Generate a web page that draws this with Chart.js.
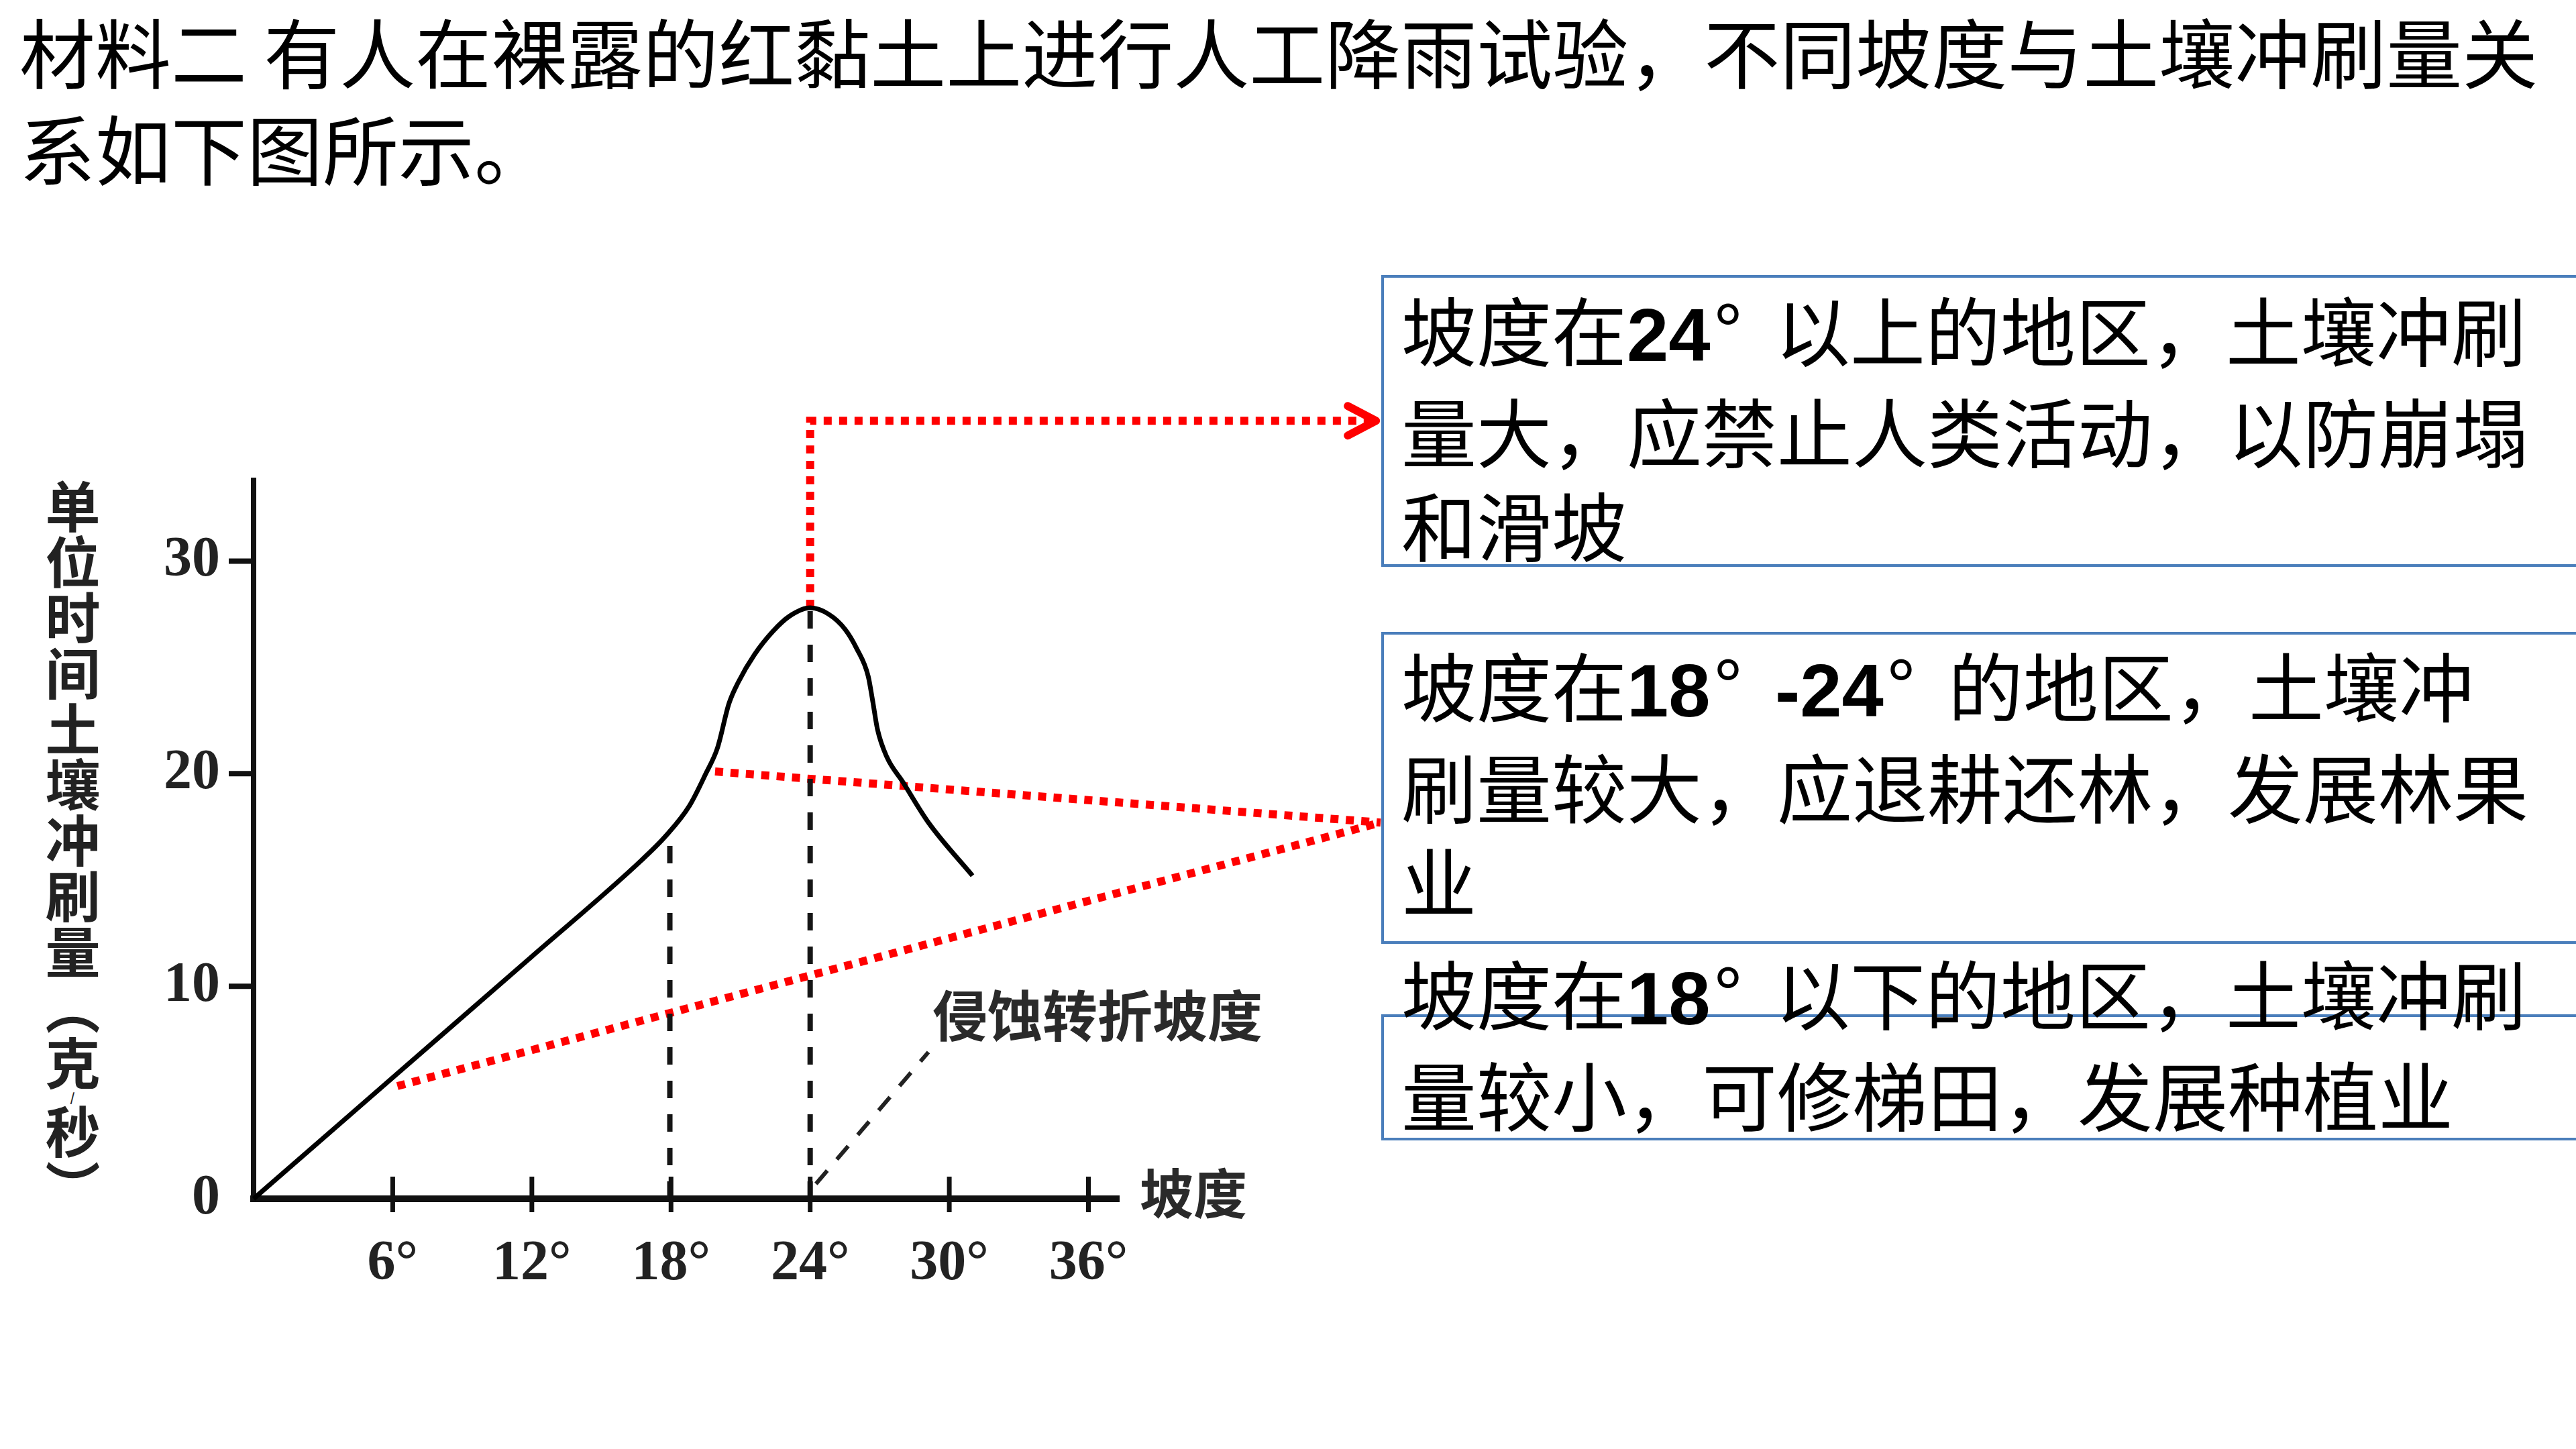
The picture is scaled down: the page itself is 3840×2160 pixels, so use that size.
<!DOCTYPE html>
<html lang="zh-CN">
<head>
<meta charset="utf-8">
<title>坡度与土壤冲刷量关系</title>
<script src="https://cdn.jsdelivr.net/npm/chart.js@4.4.1/dist/chart.umd.min.js"></script>
<style>
  html, body { margin: 0; padding: 0; background: #fff; }
  body { width: 3840px; height: 2160px; position: relative; overflow: hidden; font-family: "Noto Sans CJK SC", sans-serif; color: #000; }
  .title { position: absolute; left: 29px; top: 2px; font-size: 113px; line-height: 144px; white-space: nowrap; }
  .box { position: absolute; left: 2059px; width: 1900px; border: 4px solid #4a7ebb; border-right: none; box-sizing: border-box; }
  .note { position: absolute; left: 2089px; font-size: 112px; line-height: 140px; white-space: nowrap; }
  .note b { font-family: "Liberation Sans Narrow", "Liberation Sans", sans-serif; font-weight: 700; }
  .note .deg { display: inline-block; width: 0.86em; padding-left: 0.05em; box-sizing: border-box; overflow: visible; }
  .ytitle { position: absolute; left: 67px; top: 714px; width: 82px; font-size: 82px; line-height: 82px; font-weight: 700; color: #222;
            writing-mode: vertical-rl; text-orientation: upright; letter-spacing: 1px; }
  .ytitle .sl { font-size: 18px; }
  .lbl { position: absolute; font-weight: 700; color: #2a2a2a; white-space: nowrap; line-height: 1; }
  #wrap { position: absolute; left: 0; top: 0; width: 3840px; height: 2160px; pointer-events: none; }
</style>
</head>
<body>
<div class="title">材料二 有人在裸露的红黏土上进行人工降雨试验，不同坡度与土壤冲刷量关<br>系如下图所示。</div>

<div class="box" style="top:410px;height:435px"></div>
<div class="box" style="top:942px;height:465px"></div>
<div class="box" style="top:1512px;height:188px"></div>

<div class="note" style="top:419px">坡度在<b>24</b><span class="deg">°</span>以上的地区，土壤冲刷<br>量大，应禁止人类活动，以防崩塌<br>和滑坡</div>
<div class="note" style="top:949px">坡度在<b>18</b><span class="deg">°</span><b>-24</b><span class="deg">°</span>的地区，土壤冲<br>刷量较大，应退耕还林，发展林果<br>业</div>
<div class="note" style="top:1408px">坡度在<b>18</b><span class="deg">°</span>以下的地区，土壤冲刷<br>量较小，可修梯田，发展种植业</div>

<div class="ytitle">单位时间土壤冲刷量（克<span class="sl">/</span>秒）</div>
<div class="lbl" style="left:1390px;top:1469px;font-size:82px">侵蚀转折坡度</div>
<div class="lbl" style="left:1699px;top:1734px;font-size:80px">坡度</div>

<div id="wrap"><canvas id="chart"></canvas></div>

<script>
// erosion curve (slope in degrees, soil loss g/s)
const SLOPE_DEG = [0, 6, 12, 16.7, 17.8, 18.8, 19.5, 20.0, 20.5, 20.9, 21.6, 22.4, 23.1, 24.0, 24.8, 25.5, 26.0, 26.5, 26.7, 26.9, 27.3, 28.0, 29.1, 31.0];
const EROSION   = [0, 5.7, 11.4, 15.9, 17.1, 18.5, 20.0, 21.2, 23.3, 24.3, 25.6, 26.7, 27.4, 27.8, 27.5, 26.8, 25.9, 24.6, 23.4, 22.1, 20.8, 19.6, 17.7, 15.2];

const X_TICKS = [6, 12, 18, 24, 30, 36];
const Y_TICKS = [0, 10, 20, 30];

// black dashed guides
const GUIDE18_X = [17.95, 17.95];
const GUIDE18_Y = [0, 17.2];
const GUIDE24_X = [24, 24];
const GUIDE24_Y = [0, 27.8];
const POINTER_X = [24.25, 29.1];
const POINTER_Y = [0.7, 6.9];

// red dotted call-outs to the text boxes
const RED_TOP_X = [24, 24, 48.4];
const RED_TOP_Y = [27.8, 36.6, 36.6];
const RED_MID_X = [19.9, 48.6];
const RED_MID_Y = [20.1, 17.7];
const RED_LOW_X = [6.2, 48.6];
const RED_LOW_Y = [5.3, 17.7];

const pts = (xs, ys) => xs.map((x, i) => ({ x, y: ys[i] }));

const line = (xs, ys, color, width, dash, extra) => Object.assign({
  data: pts(xs, ys),
  borderColor: color,
  borderWidth: width,
  borderDash: dash,
  pointRadius: 0,
  fill: false,
  tension: 0,
  clip: false
}, extra || {});

// tick marks crossing the axes + arrow head on the top call-out
const axisDecor = {
  id: "axisDecor",
  afterDraw(chart) {
    const { ctx, scales: { x, y } } = chart;
    ctx.save();
    ctx.strokeStyle = "#111";
    ctx.lineCap = "butt";
    ctx.lineWidth = 7;
    X_TICKS.forEach(v => {
      const px = x.getPixelForValue(v);
      ctx.beginPath();
      ctx.moveTo(px, y.bottom - 33);
      ctx.lineTo(px, y.bottom + 20);
      ctx.stroke();
    });
    ctx.lineWidth = 8;
    Y_TICKS.filter(v => v > 0).forEach(v => {
      const py = y.getPixelForValue(v);
      ctx.beginPath();
      ctx.moveTo(x.left - 37, py);
      ctx.lineTo(x.left, py);
      ctx.stroke();
    });
    const n = RED_TOP_X.length - 1;
    const tx = x.getPixelForValue(RED_TOP_X[n]);
    const ty = y.getPixelForValue(RED_TOP_Y[n]);
    ctx.strokeStyle = "#ff0000";
    ctx.lineWidth = 12;
    ctx.lineCap = "round";
    ctx.lineJoin = "round";
    ctx.beginPath();
    ctx.moveTo(tx - 42, ty - 22);
    ctx.lineTo(tx, ty);
    ctx.lineTo(tx - 42, ty + 22);
    ctx.stroke();
    ctx.restore();
  }
};

Chart.defaults.font.family = "'Liberation Serif', serif";

new Chart(document.getElementById("chart"), {
  type: "line",
  data: {
    datasets: [
      line(GUIDE18_X, GUIDE18_Y, "#151515", 8, [26, 24]),
      line(GUIDE24_X, GUIDE24_Y, "#151515", 8, [26, 24]),
      line(POINTER_X, POINTER_Y, "#222", 6, [26, 22]),
      line(SLOPE_DEG, EROSION, "#000", 7, [], { cubicInterpolationMode: "monotone" }),
      line(RED_TOP_X, RED_TOP_Y, "#ff0000", 12, [12, 11]),
      line(RED_MID_X, RED_MID_Y, "#ff0000", 12, [12, 11]),
      line(RED_LOW_X, RED_LOW_Y, "#ff0000", 12, [12, 11])
    ]
  },
  options: {
    responsive: true,
    maintainAspectRatio: false,
    animation: false,
    devicePixelRatio: 1,
    layout: { padding: { left: 128, top: 716, right: 2176, bottom: 223 } },
    plugins: { legend: { display: false }, tooltip: { enabled: false } },
    scales: {
      x: {
        type: "linear",
        min: 0,
        max: 37.2,
        afterFit: s => { s.height = 150; },
        afterBuildTicks: s => { s.ticks = X_TICKS.map(v => ({ value: v })); },
        grid: { display: true, drawOnChartArea: false, drawTicks: false, lineWidth: 10 },
        border: { display: true, color: "#111", width: 10 },
        ticks: {
          autoSkip: false,
          maxRotation: 0,
          padding: 48,
          color: "#222",
          font: { size: 84, weight: "bold" },
          callback: v => v + "°"
        }
      },
      y: {
        type: "linear",
        min: 0,
        max: 33.8,
        afterFit: s => { s.width = 250; },
        afterBuildTicks: s => { s.ticks = Y_TICKS.map(v => ({ value: v })); },
        grid: { display: true, drawOnChartArea: false, drawTicks: false, lineWidth: 8 },
        border: { display: true, color: "#111", width: 8 },
        ticks: {
          padding: 50,
          color: "#222",
          font: { size: 84, weight: "bold" }
        }
      }
    }
  },
  plugins: [axisDecor]
});
</script>
</body>
</html>
